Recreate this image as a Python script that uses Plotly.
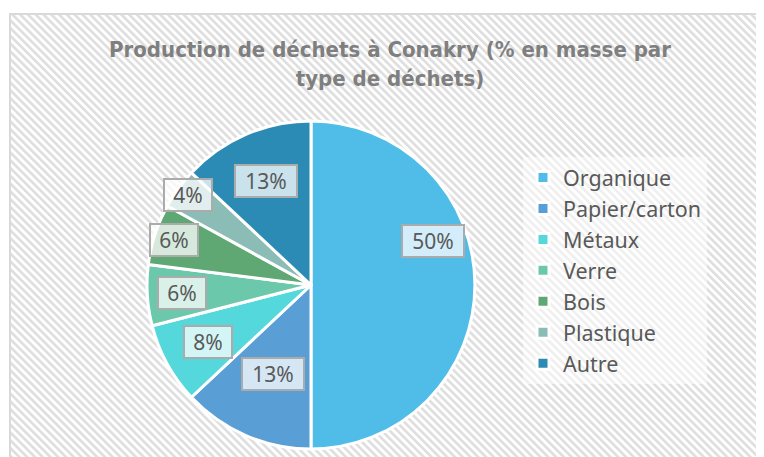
import base64, math
import plotly.graph_objects as go

# ---- data ----
categories = ["Organique", "Papier/carton", "Métaux", "Verre", "Bois", "Plastique", "Autre"]
values = [50, 13, 8, 6, 6, 4, 13]
labels_txt = ["50%", "13%", "8%", "6%", "6%", "4%", "13%"]
title_text = "Production de déchets à Conakry (% en masse par<br>type de déchets)"

# ---- style ----
colors = ["#50bde9", "#5a9ed6", "#55d8dc", "#6cc8aa", "#5fa873", "#8cbcb6", "#2c8bb5"]
OFF = 8                      # page body margin
W, H = 764 - OFF, 457 - OFF  # figure size
CX, CY, R = 311, 285, 164    # screen pixel geometry of the pie
label_r = [0.79, 0.59, 0.72, 0.79, 0.88, 0.93, 0.69]
label_dang = [-20, 0, 0, 0, 0, 0, 0]

def px(x):
    return (x - OFF) / W

def py(y):
    return 1 - (y - OFF) / H

# hatched background as svg image
FX, FY = 10, 14
bw, bh = 764 - FX, 457 - FY
svg = f'''<svg xmlns="http://www.w3.org/2000/svg" width="{bw}" height="{bh}" viewBox="0 0 {bw} {bh}" preserveAspectRatio="none">
<defs><pattern id="p" width="5.5" height="5.5" patternUnits="userSpaceOnUse" patternTransform="rotate(-45)">
<rect width="5.5" height="5.5" fill="#ffffff"/><rect width="2.6" height="5.5" fill="#dedede"/></pattern></defs>
<rect width="{bw}" height="{bh}" fill="url(#p)"/></svg>'''
src = "data:image/svg+xml;base64," + base64.b64encode(svg.encode()).decode()

fig = go.Figure()
fig.add_trace(go.Pie(
    labels=categories, values=values, sort=False, direction="clockwise", rotation=0,
    marker=dict(colors=colors, line=dict(color="white", width=3)),
    textinfo="none", hoverinfo="label+percent",
    domain=dict(x=[px(CX - R), px(CX + R)], y=[py(CY + R), py(CY - R)]),
))

annotations = []
total = sum(values)
cum = 0
for i, v in enumerate(values):
    mid = (cum + v / 2) / total * 360 + label_dang[i]
    cum += v
    a = math.radians(mid)
    lx = CX + label_r[i] * R * math.sin(a)
    ly = CY - label_r[i] * R * math.cos(a)
    annotations.append(dict(
        x=px(lx), y=py(ly), xref="paper", yref="paper", text=labels_txt[i], showarrow=False,
        font=dict(family="Noto Sans", size=21, color="#595959"),
        bgcolor="rgba(255,255,255,0.75)", bordercolor="#ababab", borderwidth=2, borderpad=3,
        width=54 if len(labels_txt[i]) > 2 else 40, height=24,
        xanchor="center", yanchor="middle",
    ))

annotations.append(dict(
    x=px(390), y=py(64), xref="paper", yref="paper", text="<b>" + title_text + "</b>", showarrow=False,
    font=dict(family="DejaVu Sans Condensed", size=22, color="#7f7f7f"),
    xanchor="center", yanchor="middle", align="center",
))

fig.update_layout(
    width=W, height=H, autosize=False,
    margin=dict(l=0, r=0, t=0, b=0),
    paper_bgcolor="white", plot_bgcolor="white",
    images=[dict(source=src, xref="paper", yref="paper", x=px(FX), y=py(FY), sizex=bw / W, sizey=bh / H,
                 xanchor="left", yanchor="top", sizing="stretch", layer="below")],
    shapes=[dict(type="rect", xref="paper", yref="paper", x0=px(FX), y0=-0.1, x1=1.1, y1=py(FY),
                 line=dict(color="#d9d9d9", width=2), fillcolor="rgba(0,0,0,0)", layer="below")],
    annotations=annotations,
    showlegend=True,
    legend=dict(x=px(523), y=py(157), xanchor="left", yanchor="top",
                font=dict(family="Noto Sans", size=21.5, color="#595959"),
                bgcolor="rgba(255,255,255,0.5)", itemclick=False),
)

fig.write_html("out.html")
